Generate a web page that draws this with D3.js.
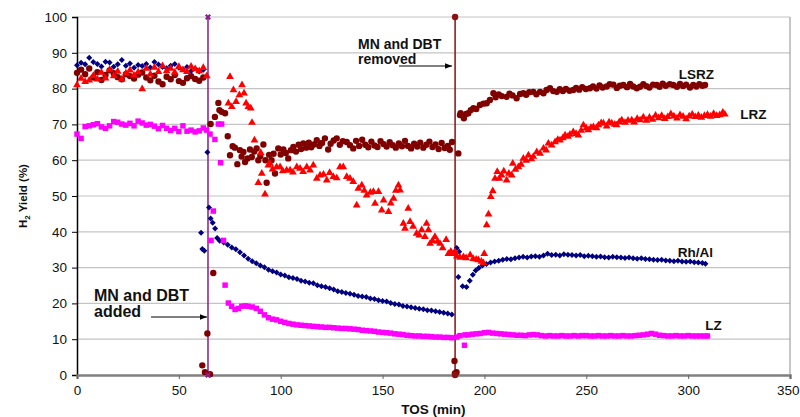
<!DOCTYPE html>
<html>
<head>
<meta charset="utf-8">
<script src="https://cdn.jsdelivr.net/npm/d3@7"></script>
<style>
  body { margin: 0; background: #fff; }
  svg text { font-family: "Liberation Sans", Arial, sans-serif; fill: #111; }
</style>
</head>
<body>
<svg id="chart"></svg>
<script>
const WIDTH = 800;
const HEIGHT = 417;
const MARGIN = { top: 17, right: 10, bottom: 42, left: 77 };

// ---- data ----
const xTicks = [0, 50, 100, 150, 200, 250, 300, 350];
const yTicks = [0, 10, 20, 30, 40, 50, 60, 70, 80, 90, 100];

// steady period before MN and DBT are added
const tosBefore = [0, 2, 4, 6, 8, 10, 12, 14, 16, 18, 20, 22, 24, 26, 28, 30,
  32, 34, 36, 38, 40, 42, 44, 46, 48, 50, 52, 54, 56, 58, 60, 62];
const rhAlBefore = [86.5, 87.2, 86.8, 88.6, 87.4, 86.9, 86.2, 87.5, 87.3, 86.1,
  86.8, 88.0, 86.4, 87.0, 85.8, 86.6, 86.3, 86.9, 85.9, 87.4,
  86.7, 86.0, 85.7, 86.4, 86.9, 85.8, 85.4, 86.0, 84.9, 85.6, 84.8, 85.3];
const lzBefore = [67.3, 66.1, 69.4, 69.6, 69.9, 70.2, 69.3, 68.9, 69.6, 70.8,
  70.6, 70.1, 69.8, 70.3, 69.6, 70.9, 70.4, 69.8, 70.0, 69.5,
  68.8, 69.7, 68.9, 68.3, 68.9, 68.0, 69.6, 68.1, 68.4, 67.9, 68.2, 69.0];
const lrzBefore = [81.0, 82.8, 81.9, 82.3, 83.6, 82.6, 84.5, 82.9, 85.3, 83.5,
  84.8, 82.6, 84.3, 85.1, 83.7, 84.6, 79.9, 85.6, 84.0, 85.9,
  84.7, 86.3, 84.9, 85.6, 84.5, 86.1, 85.2, 84.7, 86.2, 85.5, 84.9, 85.8];
const lsrzBefore = [84.4, 85.3, 84.0, 85.6, 83.1, 84.6, 82.4, 83.8, 85.1, 84.3,
  83.2, 82.6, 84.0, 83.5, 82.8, 83.9, 84.5, 83.1, 82.3, 83.6,
  82.0, 81.2, 83.3, 82.6, 83.8, 82.1, 81.6, 82.9, 83.5, 82.7, 82.2, 83.1];

// [TOS, yield] after MN and DBT added / removed
const rhAlAfter = [
  [60.9, 39.7], [61.5, 35.2], [62.5, 34.7], [64, 62.2], [64.8, 46.8], [65.6, 43.7], [66.6, 42.5],
  [67.8, 40.9], [68.8, 38.3], [70, 37.5], [72, 37.0], [74, 36.4], [76, 35.6], [78, 35.1],
  [80, 34.3], [82, 33.4], [84, 32.5], [86, 31.8], [88, 31.2], [90, 30.6], [92, 30.1], [94, 29.4],
  [96, 29.0], [98, 28.6], [100, 28.1], [102, 27.8], [104, 27.3], [106, 27.1], [108, 26.8],
  [110, 26.3], [112, 26.1], [114, 25.8], [116, 25.6], [118, 25.1], [120, 24.8], [122, 24.6],
  [124, 24.2], [126, 23.9], [128, 23.4], [130, 23.2], [132, 22.9], [134, 22.7], [136, 22.4],
  [138, 22.1], [140, 21.9], [142, 21.8], [144, 21.4], [146, 21.2], [148, 20.9], [150, 20.7],
  [152, 20.5], [154, 20.1], [156, 19.8], [158, 19.7], [160, 19.3], [162, 19.1], [164, 18.9],
  [166, 18.7], [168, 18.5], [170, 18.4], [172, 18.1], [174, 18.0], [176, 17.8], [178, 17.6],
  [180, 17.4], [182, 17.2], [184, 16.9]
];
const rhAlRemoved = [
  [186.4, 35.5], [187.6, 34.4], [187.2, 27.4], [189.3, 24.8], [191.2, 24.6], [192.8, 26.3],
  [194.3, 28.0], [195.7, 29.2], [197.2, 29.9], [199, 30.6], [201, 31.0], [203, 31.4], [205, 31.7],
  [207, 31.9], [209, 32.2], [211, 32.4], [213, 32.3], [215, 32.6], [217, 32.8], [219, 33.0],
  [221, 32.8], [223, 33.1], [225, 33.2], [227, 33.0], [229, 33.4], [231, 33.9], [233, 33.5],
  [235, 33.6], [237, 33.4], [239, 33.7], [241, 33.6], [243, 33.5], [245, 33.4], [247, 33.5],
  [249, 33.2], [251, 33.3], [253, 33.2], [255, 33.0], [257, 33.1], [259, 32.9], [261, 32.8],
  [263, 33.0], [265, 32.9], [267, 32.8], [269, 32.7], [271, 32.8], [273, 32.6], [275, 32.5],
  [277, 32.6], [279, 32.4], [281, 32.3], [283, 32.2], [285, 32.1], [287, 32.2], [289, 32.0],
  [291, 31.9], [293, 31.8], [295, 31.9], [297, 31.7], [299, 31.6], [301, 31.7], [303, 31.5],
  [305, 31.4], [307, 31.3], [308.5, 31.1]
];

const lzAfter = [
  [63.6, 68.4], [65.3, 67.3], [67.7, 65.8], [65.8, 37.6], [66.9, 45.8], [69.4, 70.1], [71, 70.1],
  [70.5, 59.3], [71.9, 37.6], [72.7, 25.1], [74.3, 20.1], [75.9, 19.2], [77.6, 18.3], [79.2, 18.6],
  [80.9, 19.2], [82.5, 19.3], [84, 19.2], [86, 19.0], [88, 18.6], [90, 17.8], [92, 16.8],
  [94, 16.0], [96, 15.6], [98, 15.4], [100, 15.0], [102, 14.7], [104, 14.4], [106, 14.2],
  [108, 14.0], [110, 13.9], [112, 13.8], [114, 13.7], [116, 13.6], [118, 13.5], [120, 13.4],
  [122, 13.3], [124, 13.3], [126, 13.2], [128, 13.1], [130, 13.0], [132, 13.0], [134, 12.9],
  [136, 12.8], [138, 12.7], [140, 12.5], [142, 12.4], [144, 12.3], [146, 12.2], [148, 12.0],
  [150, 11.9], [152, 11.8], [154, 11.7], [156, 11.5], [158, 11.4], [160, 11.3], [162, 11.1],
  [164, 11.0], [166, 10.9], [168, 10.9], [170, 10.8], [172, 10.8], [174, 10.7], [176, 10.6],
  [178, 10.6], [180, 10.5], [182, 10.5], [184, 10.4]
];
const lzRemoved = [
  [186.4, 10.6], [188, 11.0], [190.2, 8.3], [190.5, 11.2], [192, 11.2], [194, 11.4], [196, 11.5],
  [198, 11.6], [200, 11.8], [202, 11.9], [204, 11.7], [206, 11.6], [208, 11.5], [210, 11.4],
  [212, 11.3], [214, 11.2], [216, 11.1], [218, 11.1], [220, 11.0], [222, 11.2], [224, 11.3],
  [226, 11.2], [228, 11.0], [230, 10.9], [232, 11.0], [234, 10.9], [236, 10.9], [238, 11.0],
  [240, 10.9], [242, 10.9], [244, 11.0], [246, 10.9], [248, 11.0], [250, 11.0], [252, 10.9],
  [254, 10.9], [256, 11.0], [258, 10.9], [260, 10.9], [262, 11.0], [264, 10.9], [266, 10.9],
  [268, 11.0], [270, 10.9], [272, 10.9], [274, 11.0], [276, 11.1], [278, 11.2], [280, 11.4],
  [282, 11.6], [284, 11.4], [286, 11.1], [288, 11.0], [290, 10.9], [292, 10.9], [294, 11.0],
  [296, 10.9], [298, 10.9], [300, 11.0], [302, 10.9], [304, 10.9], [306, 10.9], [308, 10.9],
  [309.5, 10.9]
];

const lrzAfter = [
  [63.7, 83.5], [74.3, 75.9], [75.1, 83.3], [76, 74.9], [76.8, 79.6], [78.1, 76.3], [79.7, 78.2],
  [81, 81.0], [82, 78.7], [83, 75.9], [84.1, 74.9], [85.3, 74.5], [85.9, 70.5], [87.1, 65.6],
  [89, 53.7], [90.2, 62.1], [90.7, 56.3], [92.3, 50.5], [93.9, 58.6], [94.7, 59.1], [96, 57.5],
  [98, 58.1], [99.7, 58.1], [101, 57.0], [102.9, 57.2], [104.6, 57.2], [106, 56.6], [107.9, 58.1],
  [109.5, 57.7], [111, 56.8], [112.8, 58.1], [114.4, 57.2], [116, 58.6], [117.7, 54.9],
  [119.3, 55.8], [121, 56.0], [122.6, 54.4], [124, 56.5], [125.8, 55.4], [127.5, 55.0],
  [129.1, 58.1], [130.7, 58.1], [132.4, 55.4], [134, 54.9], [135.6, 54.0], [137.3, 47.4],
  [138.1, 52.1], [139.8, 53.0], [141, 51.5], [142.2, 50.2], [144, 51.0], [145.5, 51.2],
  [146.3, 47.9], [148, 51.2], [149.6, 46.0], [150.5, 48.8], [152.9, 45.6], [154, 48.0],
  [155.4, 49.3], [156.5, 51.5], [157.8, 53.0], [158.6, 51.6], [160.2, 42.3], [161, 40.9],
  [162.6, 46.5], [163.5, 42.8], [165, 41.5], [166.7, 39.5], [168, 39.0], [169.2, 40.5],
  [170.8, 38.6], [171.6, 42.3], [172.5, 40.5], [173.3, 36.7], [174.5, 37.5], [175.7, 38.6],
  [177, 37.3], [178.2, 36.7], [179.5, 35.5], [181.2, 37.8], [182.3, 33.9], [183.5, 34.5],
  [184.7, 33.9]
];
const lrzRemoved = [
  [185.6, 34.4], [186.5, 33.2], [188, 32.8], [189.7, 33.0], [191, 32.7], [193, 33.5], [194.5, 32.5],
  [196, 32.3], [197, 32.1], [198.5, 31.7], [199.5, 31.3], [199.9, 33.9], [201.1, 41.9],
  [202, 44.9], [203.1, 49.8], [204.1, 51.4], [205.2, 54.9], [206.3, 56.8], [207.3, 54.9],
  [208.4, 55.8], [209.5, 56.9], [210.9, 54.4], [212, 56.3], [213.4, 55.8], [213.9, 59.1],
  [215.2, 57.4], [216.7, 58.1], [218, 58.8], [219.1, 60.5], [220.5, 59.9], [221.6, 61.4],
  [223, 60.3], [224, 61.0], [225.7, 62.3], [227.3, 61.9], [229, 63.3], [230.3, 62.8],
  [231.4, 64.7], [233, 64.2], [234.7, 65.1], [236, 65.7], [237.1, 65.6], [238.5, 66.2],
  [239.6, 67.0], [241, 66.6], [242, 67.2], [243.6, 67.9], [245, 67.4], [246.1, 67.0],
  [247.5, 68.3], [248.6, 69.8], [250, 68.9], [251, 68.4], [252.3, 69.1], [253.5, 69.3],
  [255, 69.0], [256, 69.8], [257.3, 70.4], [258.4, 70.3], [260, 69.5], [261.2, 70.6],
  [262.5, 70.3], [264, 70.0], [264.9, 69.8], [266.2, 70.7], [267.4, 71.2], [269, 70.5],
  [270.5, 71.1], [272.3, 71.2], [273.5, 70.6], [275, 71.6], [276.4, 71.2], [278, 72.0],
  [279.5, 71.1], [281, 71.9], [282.5, 71.4], [284, 72.5], [285.5, 71.8], [287, 72.4],
  [288.5, 71.6], [290, 72.1], [291.5, 72.9], [293, 72.3], [294.5, 71.7], [296, 72.6],
  [297.5, 72.2], [299, 71.5], [300.5, 72.3], [302, 72.8], [303.5, 72.1], [305, 72.5],
  [306.5, 71.9], [308, 72.4], [309.5, 72.7], [311, 72.2], [312.5, 73.0], [314, 72.4],
  [315.5, 72.6], [317, 73.3], [318, 72.8]
];

const lsrzAfter = [
  [61.5, 2.7], [62.8, 0.8], [64, 11.6], [65.3, 0.2], [66.9, 28.5], [65.6, 70.1], [67.7, 72.1],
  [69.4, 76.0], [69.9, 74.0], [71, 73.5], [72.7, 73.1], [74, 66.7], [75.1, 61.4], [76.4, 63.9],
  [77.5, 63.5], [78.7, 58.9], [80, 62.8], [80.8, 61.0], [81.7, 62.3], [82.5, 59.5], [83.7, 60.5],
  [84.9, 63.0], [85.8, 60.9], [87, 62.4], [88.2, 63.3], [89, 60.0], [90, 61.2], [91.5, 64.4],
  [92.5, 60.0], [93.1, 53.7], [94.3, 61.5], [95.5, 60.0], [96.5, 61.8], [97.2, 56.3],
  [98.8, 63.3], [100, 61.6], [101.3, 63.0], [102.5, 62.0], [103.7, 60.5], [105, 62.8],
  [106.2, 63.7], [107.5, 62.4], [108.8, 64.3], [110, 63.1], [111.1, 64.7], [112.5, 63.5],
  [113.8, 64.9], [115, 63.6], [116.3, 64.4], [117.7, 65.6], [119, 64.0], [120.3, 64.8],
  [121.7, 66.1], [123.3, 63.0], [124.5, 64.6], [126, 65.5], [127.5, 66.1], [129, 64.3],
  [130.5, 65.3], [132.4, 65.1], [134, 64.2], [135.6, 63.3], [137, 65.4], [138.5, 64.0],
  [140, 65.7], [141.5, 64.3], [143, 63.6], [144.5, 65.2], [146, 64.1], [147.5, 63.7],
  [149, 65.3], [150.5, 64.5], [152, 63.8], [153.5, 65.0], [155, 64.2], [156.5, 63.5],
  [158, 64.7], [159.5, 63.9], [161, 65.4], [162.5, 64.0], [164, 63.3], [165.5, 64.6],
  [167, 63.8], [168.5, 64.9], [170, 63.5], [171.5, 64.3], [173, 65.2], [174.5, 63.7],
  [176, 64.4], [177.5, 63.1], [179, 64.8], [180.5, 63.4], [182, 64.0], [183, 62.9], [184.1, 65.1]
];
const lsrzRemoved = [
  [185.3, 3.9], [185.5, 0.4], [186.3, 0.8], [187.2, 61.9], [188, 72.6], [188.3, 73.1],
  [189.9, 71.7], [191, 72.9], [192.1, 73.1], [193.3, 74.0], [194.6, 74.5], [196, 74.3],
  [197.8, 75.4], [199.5, 75.8], [201.1, 75.9], [202.7, 76.8], [204.4, 78.7], [205.5, 77.6],
  [207, 78.4], [208.5, 77.9], [210.9, 77.7], [212.3, 78.6], [213.8, 78.1], [215.8, 77.3],
  [217.5, 78.5], [219.1, 78.7], [220.5, 78.3], [222, 79.0], [224, 79.1], [225.5, 78.4],
  [227.3, 79.1], [229, 78.7], [230.5, 79.6], [232.2, 80.1], [233.8, 79.3], [235.5, 79.1],
  [237, 79.8], [238.5, 79.3], [240, 79.9], [241.8, 79.4], [243.6, 79.6], [245, 80.2],
  [246.5, 79.7], [248, 80.4], [249.8, 79.9], [251.8, 80.1], [253.3, 80.6], [255, 80.0],
  [256.5, 80.9], [258, 80.3], [260, 80.6], [261.5, 81.2], [263.3, 81.1], [265, 80.2],
  [266.5, 80.8], [268.2, 81.0], [270, 80.4], [271.5, 81.3], [273, 80.6], [274.8, 80.1],
  [276.4, 80.5], [278, 81.2], [279.5, 80.7], [281, 80.3], [282.8, 81.1], [284.6, 81.0],
  [286, 80.5], [287.5, 81.4], [289, 80.8], [291, 81.2], [292.7, 81.0], [294.5, 80.5],
  [296, 81.3], [297.5, 80.7], [299, 81.1], [300.9, 80.3], [302.5, 81.0], [304, 80.6],
  [305.5, 81.2], [307, 80.8], [308.3, 81.0]
];

// times where MN and DBT were switched on / off
const switchTimes = [64.3, 185.6];

// ---- chart ----
const svg = d3.select('#chart')
  .attr('width', WIDTH)
  .attr('height', HEIGHT);

const x = d3.scaleLinear().domain([0, 350]).range([MARGIN.left, WIDTH - MARGIN.right]);
const y = d3.scaleLinear().domain([0, 100]).range([HEIGHT - MARGIN.bottom, MARGIN.top]);

// gridlines
svg.append('g')
  .selectAll('line')
  .data(yTicks.slice(1))
  .enter().append('line')
  .attr('x1', x(0)).attr('x2', x(350))
  .attr('y1', d => y(d)).attr('y2', d => y(d))
  .attr('stroke', '#c4c4c4')
  .attr('stroke-width', 1.2);

// right border
svg.append('line')
  .attr('x1', x(350)).attr('x2', x(350))
  .attr('y1', y(0)).attr('y2', y(100))
  .attr('stroke', '#a0a0a0')
  .attr('stroke-width', 1.2);

// axes
const yAxis = svg.append('g')
  .attr('transform', `translate(${x(0)},0)`)
  .call(d3.axisLeft(y).tickValues(yTicks).tickSize(5).tickPadding(5));
yAxis.select('.domain').attr('stroke', '#000').attr('stroke-width', 1.5);
yAxis.selectAll('.tick line').attr('stroke', '#000');
yAxis.selectAll('.tick text')
  .attr('font-size', 13.5)
  .attr('fill', '#222')
  .style('font-family', '"Liberation Sans", Arial, sans-serif');

const xAxis = svg.append('g')
  .attr('transform', `translate(0,${y(0)})`)
  .call(d3.axisBottom(x).tickValues(xTicks).tickSize(4).tickPadding(6));
xAxis.select('.domain').attr('stroke', '#808080').attr('stroke-width', 2.5);
xAxis.selectAll('.tick line').attr('stroke', '#666');
xAxis.selectAll('.tick text')
  .attr('font-size', 13.5)
  .attr('fill', '#222')
  .style('font-family', '"Liberation Sans", Arial, sans-serif');
// last label sits at the window edge: keep it inside
xAxis.selectAll('.tick text')
  .filter(d => d === 350)
  .attr('text-anchor', 'end')
  .attr('dx', WIDTH - 1 - x(350));

// axis titles
svg.append('text')
  .attr('x', (x(0) + x(350)) / 2)
  .attr('y', 414)
  .attr('text-anchor', 'middle')
  .attr('font-size', 13.5)
  .attr('font-weight', 'bold')
  .text('TOS (min)');

const yTitle = svg.append('text')
  .attr('transform', `translate(27,${(y(0) + y(100)) / 2}) rotate(-90)`)
  .attr('text-anchor', 'middle')
  .attr('font-size', 11.5)
  .attr('font-weight', 'bold');
yTitle.append('tspan').text('H');
yTitle.append('tspan').attr('font-size', 8).attr('dy', 3).text('2');
yTitle.append('tspan').attr('dy', -3).text(' Yield (%)');

// switch lines
const switchColors = ['#8a1c8a', '#8b1010'];
svg.append('g')
  .selectAll('line')
  .data(switchTimes)
  .enter().append('line')
  .attr('x1', d => x(d)).attr('x2', d => x(d))
  .attr('y1', y(0)).attr('y2', y(100))
  .attr('stroke', (d, i) => switchColors[i])
  .attr('stroke-width', 1.5);

// series
const before = arr => tosBefore.map((t, i) => [t, arr[i]]);
const series = [
  { name: 'Rh/Al', color: '#000080', symbol: d3.symbolSquare, size: 18, rotate: 45,
    points: before(rhAlBefore).concat(rhAlAfter, rhAlRemoved) },
  { name: 'LZ', color: '#ff00ff', symbol: d3.symbolSquare, size: 30, rotate: 0,
    points: before(lzBefore).concat(lzAfter, lzRemoved) },
  { name: 'LSRZ', color: '#800000', symbol: d3.symbolCircle, size: 32, rotate: 0,
    points: before(lsrzBefore).concat(lsrzAfter, lsrzRemoved) },
  { name: 'LRZ', color: '#ff0000', symbol: d3.symbolTriangle, size: 26, rotate: 0,
    points: before(lrzBefore).concat(lrzAfter, lrzRemoved) }
];

series.forEach(s => {
  svg.append('g')
    .selectAll('path')
    .data(s.points)
    .enter().append('path')
    .attr('d', d3.symbol().type(s.symbol).size(s.size))
    .attr('transform', d => `translate(${x(d[0])},${y(d[1])}) rotate(${s.rotate})`)
    .attr('fill', s.color);
});

// end markers of the switch lines
svg.append('g')
  .selectAll('path')
  .data([0, 100])
  .enter().append('path')
  .attr('d', d3.symbol().type(d3.symbolCross).size(22))
  .attr('transform', d => `translate(${x(switchTimes[0])},${y(d)}) rotate(45)`)
  .attr('fill', switchColors[0]);
svg.append('g')
  .selectAll('circle')
  .data([0, 100])
  .enter().append('circle')
  .attr('cx', x(switchTimes[1]))
  .attr('cy', d => y(d))
  .attr('r', 3.2)
  .attr('fill', switchColors[1]);

// series labels
const labels = [
  { text: 'LSRZ', at: [304, 84.1] },
  { text: 'LRZ', at: [332, 72.9] },
  { text: 'Rh/Al', at: [303.5, 34.4] },
  { text: 'LZ', at: [312.5, 13.9] }
];
svg.append('g')
  .selectAll('text')
  .data(labels)
  .enter().append('text')
  .attr('x', d => x(d.at[0]))
  .attr('y', d => y(d.at[1]))
  .attr('dy', '0.36em')
  .attr('text-anchor', 'middle')
  .attr('font-size', 13.5)
  .attr('font-weight', 'bold')
  .text(d => d.text);

// annotations
svg.append('defs').append('marker')
  .attr('id', 'arrow')
  .attr('viewBox', '0 0 10 10')
  .attr('refX', 10).attr('refY', 5)
  .attr('markerWidth', 7).attr('markerHeight', 7)
  .attr('orient', 'auto')
  .append('path')
  .attr('d', 'M0,1 L10,5 L0,9 Z')
  .attr('fill', '#000');

const notes = [
  { lines: ['MN and DBT', 'added'], x: 94, y: 300.5, size: 16, lh: 16,
    arrow: [151, 317, x(switchTimes[0]) - 1, 317] },
  { lines: ['MN and DBT', 'removed'], x: 358, y: 49, size: 14, lh: 14.5,
    arrow: [399, 66, x(switchTimes[1]) - 3, 66] }
];
notes.forEach(n => {
  const t = svg.append('text')
    .attr('font-size', n.size)
    .attr('font-weight', 'bold');
  n.lines.forEach((l, i) => {
    t.append('tspan').attr('x', n.x).attr('y', n.y + i * n.lh).text(l);
  });
  svg.append('line')
    .attr('x1', n.arrow[0]).attr('y1', n.arrow[1])
    .attr('x2', n.arrow[2]).attr('y2', n.arrow[3])
    .attr('stroke', '#000')
    .attr('stroke-width', 1)
    .attr('marker-end', 'url(#arrow)');
});
</script>
</body>
</html>
